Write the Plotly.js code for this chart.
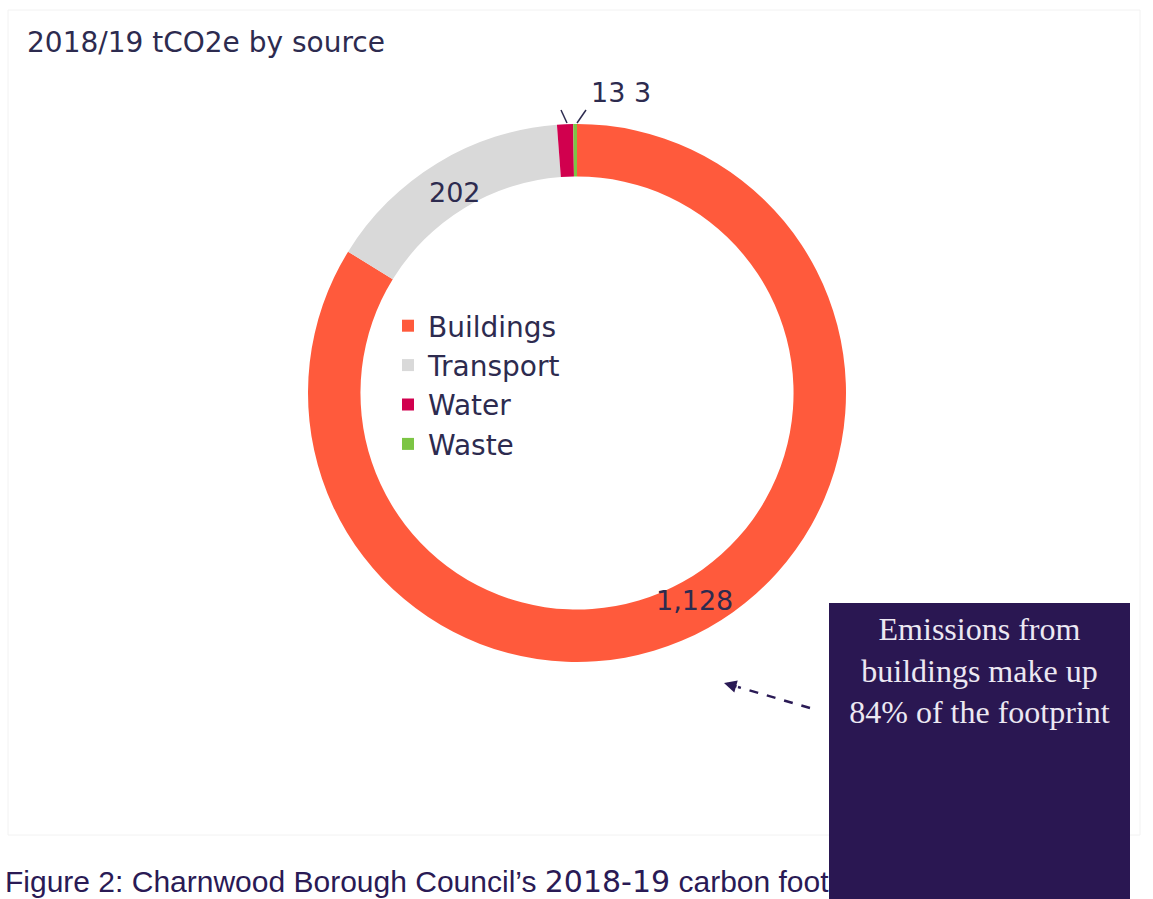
<!DOCTYPE html>
<html>
<head>
<meta charset="utf-8">
<script src="https://cdn.plot.ly/plotly-3.0.1.min.js"></script>
<style>html,body{margin:0;padding:0;background:#fff;}#chart{width:1153px;height:899px;}</style>
</head>
<body>
<div id="chart"></div>
<script>
const categories = ["Buildings", "Transport", "Water", "Waste"];
const values = [1128, 202, 13, 3];
const colors = ["#FF5A3C", "#D9D9D9", "#D1004E", "#7CC544"];

const W = 1153, H = 899;
const px = x => x / W;
const py = y => 1 - y / H;
const ink = "#2D2B4F";
const sans = "DejaVu Sans, Verdana, sans-serif";

const trace = {
  type: "pie",
  labels: categories,
  values: values,
  marker: {colors: colors, line: {width: 0}},
  hole: 0.805,
  sort: false,
  direction: "clockwise",
  rotation: 0,
  textinfo: "none",
  domain: {x: [px(308), px(846)], y: [py(662), py(124)]},
  hoverinfo: "label+value+percent"
};

const fmt = v => v.toLocaleString("en-US");

const layout = {
  width: W, height: H,
  margin: {l: 0, r: 0, t: 0, b: 0},
  paper_bgcolor: "#ffffff",
  showlegend: true,
  legend: {
    x: px(388), y: py(301), xanchor: "left", yanchor: "top",
    font: {family: sans, size: 28, color: ink},
    bgcolor: "rgba(0,0,0,0)", itemwidth: 30, tracegroupgap: 0
  },
  shapes: [
    {type: "rect", xref: "paper", yref: "paper", x0: px(8), x1: px(1140), y0: py(835), y1: py(10),
     line: {color: "#F2F2F2", width: 1}, fillcolor: "rgba(0,0,0,0)", layer: "below"},
    {type: "line", xref: "paper", yref: "paper", x0: px(810), y0: py(708), x1: px(738), y1: py(687),
     line: {color: "#2A1A55", width: 2.5, dash: "dash"}},
    {type: "line", xref: "paper", yref: "paper", x0: px(561), y0: py(110), x1: px(567), y1: py(123),
     line: {color: ink, width: 1.5}},
    {type: "line", xref: "paper", yref: "paper", x0: px(586), y0: py(110), x1: px(577), y1: py(123),
     line: {color: ink, width: 1.5}}
  ],
  annotations: [
    {text: "2018/19 tCO2e by source", xref: "paper", yref: "paper", x: px(25), y: py(42),
     xanchor: "left", yanchor: "middle", showarrow: false,
     font: {family: sans, size: 28, color: ink}},
    {text: fmt(values[0]), xref: "paper", yref: "paper", x: px(694), y: py(600),
     xanchor: "center", yanchor: "middle", showarrow: false,
     font: {family: sans, size: 27, color: ink}},
    {text: fmt(values[1]), xref: "paper", yref: "paper", x: px(455), y: py(193),
     xanchor: "center", yanchor: "middle", showarrow: false,
     font: {family: sans, size: 27, color: ink}},
    {text: fmt(values[2]) + " " + fmt(values[3]), xref: "paper", yref: "paper", x: px(621), y: py(93),
     xanchor: "center", yanchor: "middle", showarrow: false,
     font: {family: sans, size: 27, color: ink}},
    {text: "Figure 2: Charnwood Borough Council\u2019s <span style=\"font-family:DejaVu Sans\">2018-19</span> carbon footprint",
     xref: "paper", yref: "paper",
     x: px(3), y: py(881), xanchor: "left", yanchor: "middle", showarrow: false,
     font: {family: "Liberation Sans, Arial, sans-serif", size: 30, color: "#2A1A55"}},
    {text: "", xref: "paper", yref: "paper", x: px(724), y: py(683), ax: 14, ay: 4,
     showarrow: true, arrowhead: 2, arrowsize: 1, arrowwidth: 2.5, arrowcolor: "#2A1A55"},
    {text: "Emissions from<br>buildings make up<br>84% of the footprint", xref: "paper", yref: "paper",
     x: px(829), y: py(603), xanchor: "left", yanchor: "top", showarrow: false, align: "center",
     valign: "top", width: 285, height: 280, borderpad: 8, bgcolor: "#2A1752", borderwidth: 0,
     font: {family: "Liberation Serif, Times New Roman, serif", size: 32, color: "#ECE8F2"}}
  ]
};

Plotly.newPlot("chart", [trace], layout, {displayModeBar: false, staticPlot: true});
</script>
</body>
</html>
